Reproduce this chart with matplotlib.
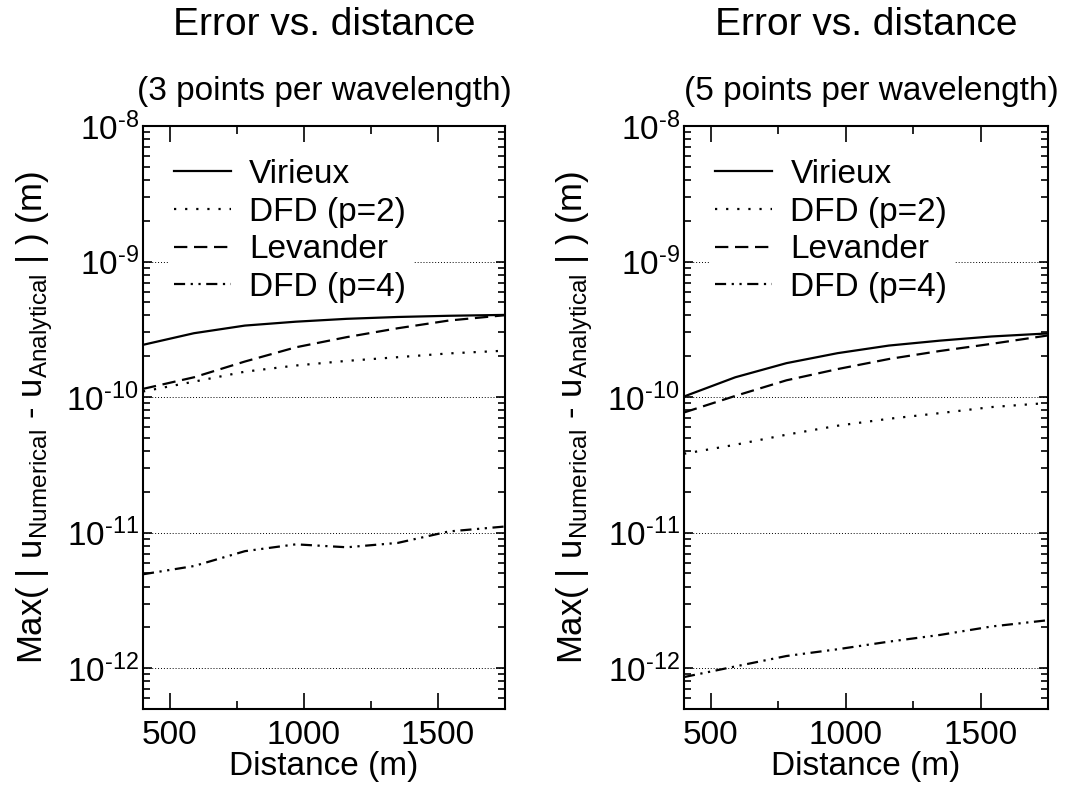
import matplotlib
matplotlib.use("Agg")
import matplotlib.pyplot as plt
import numpy as np
from matplotlib.ticker import FixedLocator, MultipleLocator, NullFormatter, FuncFormatter

plt.rcParams['font.family'] = ['Liberation Sans', 'DejaVu Sans']
plt.rcParams['mathtext.fontset'] = 'custom'
plt.rcParams['mathtext.rm'] = 'Liberation Sans'
plt.rcParams['mathtext.it'] = 'Liberation Sans:italic'

# distance samples (m)
distance = [400, 590, 780, 970, 1160, 1350, 1540, 1750]

# 3 points per wavelength
virieux_3 = [2.43e-10, 2.96e-10, 3.37e-10, 3.60e-10, 3.78e-10, 3.90e-10, 3.98e-10, 4.04e-10]
dfd2_3 = [1.10e-10, 1.30e-10, 1.54e-10, 1.71e-10, 1.85e-10, 1.97e-10, 2.10e-10, 2.20e-10]
levander_3 = [1.15e-10, 1.40e-10, 1.83e-10, 2.33e-10, 2.77e-10, 3.22e-10, 3.67e-10, 4.02e-10]
dfd4_3 = [4.93e-12, 5.67e-12, 7.30e-12, 8.20e-12, 7.80e-12, 8.40e-12, 1.02e-11, 1.11e-11]

# 5 points per wavelength
virieux_5 = [1.01e-10, 1.40e-10, 1.78e-10, 2.11e-10, 2.40e-10, 2.61e-10, 2.80e-10, 2.95e-10]
dfd2_5 = [3.82e-11, 4.45e-11, 5.28e-11, 6.15e-11, 6.92e-11, 7.62e-11, 8.44e-11, 9.05e-11]
levander_5 = [7.70e-11, 1.02e-10, 1.33e-10, 1.61e-10, 1.91e-10, 2.19e-10, 2.47e-10, 2.85e-10]
dfd4_5 = [8.60e-13, 1.03e-12, 1.23e-12, 1.38e-12, 1.57e-12, 1.76e-12, 2.03e-12, 2.26e-12]

labels = ["Virieux", "DFD (p=2)", "Levander", "DFD (p=4)"]
subtitles = ["(3 points per wavelength)", "(5 points per wavelength)"]
styles = ['-', (0, (1, 4)), (0, (6, 3)), (0, (5, 2.5, 1, 2.5, 1, 2.5))]

decades = [-12, -11, -10, -9, -8]
y_major = [10.0 ** d for d in decades]
y_minor = [m * 10.0 ** d for d in [-13] + decades[:-1] for m in range(2, 10)]
y_minor = [v for v in y_minor if v >= 5e-13]


def pow10(v, pos):
    # plain hyphen in the exponent, like the original plot
    e = int(round(np.log10(v)))
    return r"$\mathdefault{10^{\text{-%d}}}$" % (-e)


W, H = 1079, 787
fig = plt.figure(figsize=(W / 100, H / 100), dpi=100)

panels = [
    ([143 / W, 1 - 709 / H, 362 / W, 583 / H], [virieux_3, dfd2_3, levander_3, dfd4_3], 0.5),
    ([684 / W, 1 - 709 / H, 364 / W, 583 / H], [virieux_5, dfd2_5, levander_5, dfd4_5], 0.515),
]

for k, (rect, series, sub_x) in enumerate(panels):
    ax = fig.add_axes(rect)
    for vals, lab, ls in zip(series, labels, styles):
        ax.plot(distance, vals, color='black', linestyle=ls, lw=1.6, label=lab)

    ax.set_yscale('log')
    ax.set_xlim(400, 1750)
    ax.set_ylim(5e-13, 1e-8)

    ax.xaxis.set_major_locator(MultipleLocator(500))
    ax.xaxis.set_minor_locator(MultipleLocator(250))
    ax.yaxis.set_major_locator(FixedLocator(y_major))
    ax.yaxis.set_major_formatter(FuncFormatter(pow10))
    ax.yaxis.set_minor_locator(FixedLocator(y_minor))
    ax.yaxis.set_minor_formatter(NullFormatter())

    ax.tick_params(which='both', direction='in', top=True, right=True, labelsize=24, width=1.2)
    ax.tick_params(axis='x', which='major', length=11.5, pad=8)
    ax.tick_params(axis='x', which='minor', length=5.8)
    ax.tick_params(axis='y', which='major', length=6.5, pad=3)
    ax.tick_params(axis='y', which='minor', length=5)
    for sp in ax.spines.values():
        sp.set_linewidth(1.5)

    ax.yaxis.grid(True, which='major', linestyle=(0, (1, 2)), color='black', lw=0.7)

    ax.set_xlabel("Distance (m)", fontsize=24, labelpad=0)
    ax.text(-0.30, 0.5, r"Max( | u$_{\mathrm{Numerical}}$ - u$_{\mathrm{Analytical}}$ | ) (m)",
            transform=ax.transAxes, rotation=90, ha='center', va='center', fontsize=25)

    ax.text(0.5, 1.156, "Error vs. distance", transform=ax.transAxes,
            ha='center', va='baseline', fontsize=28)
    ax.text(sub_x, 1.045, subtitles[k], transform=ax.transAxes,
            ha='center', va='baseline', fontsize=24)

    ax.legend(loc='upper left', bbox_to_anchor=(0.068, 0.955), fontsize=24,
              frameon=True, facecolor='white', edgecolor='none', framealpha=1,
              fancybox=False, handlelength=1.7, handletextpad=0.55,
              labelspacing=0.2, borderpad=0.2, borderaxespad=0)

fig.savefig("out.png", dpi=100)
